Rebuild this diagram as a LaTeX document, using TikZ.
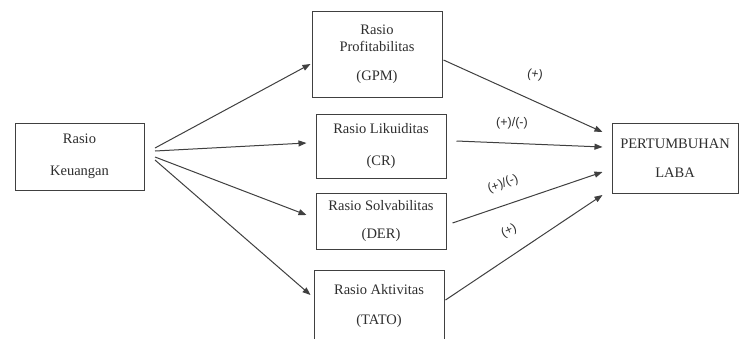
\documentclass[tikz,border=0pt]{standalone}
\usepackage{fontspec}
\setmainfont{Liberation Serif}
\newfontfamily\lblfont{Liberation Sans}
\usetikzlibrary{arrows.meta}
\definecolor{ln}{HTML}{404040}
\definecolor{tx}{HTML}{2E2E2E}
\tikzset{
  box/.style={draw=ln, line width=1pt, text=tx, align=center, inner sep=0pt,
    font=\fontsize{14.5}{17}\selectfont},
  arr/.style={draw=ln, line width=1pt, -{Triangle[length=8pt,width=6pt]}},
  sign/.style={text=tx, font=\lblfont\fontsize{12.5}{14}\selectfont, inner sep=0pt}
}
\begin{document}
\begin{tikzpicture}[x=1pt,y=1pt]
\useasboundingbox (0,0) rectangle (740,-338);
\clip (0,0) rectangle (740,-338);
\fill[white] (0,0) rectangle (740,-338);
% boxes
\node[box, minimum width=129pt, minimum height=67pt] (K) at (79.5,-156.5) {Rasio\\[15pt]Keuangan};
\node[box, minimum width=130pt, minimum height=86pt] (GPM) at (377,-54) {Rasio\\Profitabilitas\\[12pt](GPM)};
\node[box, minimum width=130pt, minimum height=64pt] (CR) at (381,-146) {Rasio Likuiditas\\[15pt](CR)};
\node[box, minimum width=130pt, minimum height=56pt] (DER) at (381,-221) {Rasio Solvabilitas\\[11pt](DER)};
\node[box, minimum width=130pt, minimum height=72pt] (TATO) at (379,-306) {Rasio Aktivitas\\[13pt](TATO)};
\node[box, minimum width=126pt, minimum height=70pt] (PL) at (675,-158) {PERTUMBUHAN\\[12pt]LABA};
% fan start points
\coordinate (s1) at (155,-148);
\coordinate (s2) at (155,-151);
\coordinate (s3) at (155,-157);
\coordinate (s4) at (155,-160);
\draw[arr] (s1) -- ([shift={(-1,-10)}]GPM.west);
\draw[arr] (s2) -- ([shift={(-9,3)}]CR.west);
\draw[arr] (s3) -- ([shift={(-9,6)}]DER.west);
\draw[arr] (s4) -- ([shift={(-3,11)}]TATO.west);
% to PERTUMBUHAN LABA
\draw[arr] ([shift={(1,-6)}]GPM.east) -- ([shift={(-9,26)}]PL.west);
\draw[arr] ([shift={(10,5)}]CR.east) -- ([shift={(-9,11)}]PL.west);
\draw[arr] ([shift={(6,-2)}]DER.east) -- ([shift={(-9,-14)}]PL.west);
\draw[arr] ([shift={(1,6)}]TATO.east) -- ([shift={(-9,-37)}]PL.west);
% signs
\node[sign, rotate=-8] (l1) at (535,-75) {(+)};
\node[sign] (l2) at (512,-123) {(+)/(-)};
\node[sign, rotate=20] (l3) at (503,-184) {(+)/(-)};
\node[sign, rotate=25] (l4) at (509,-231) {(+)};
\end{tikzpicture}
\end{document}
